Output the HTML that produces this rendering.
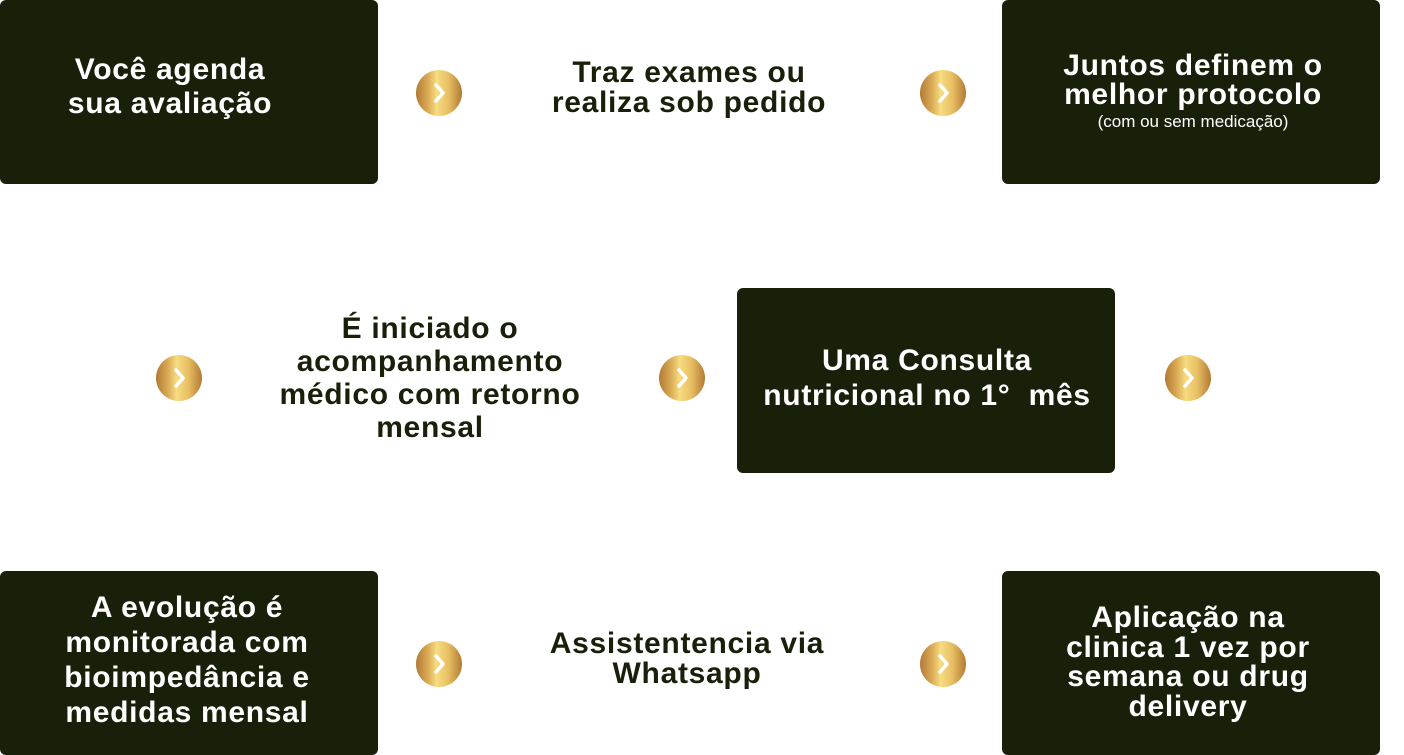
<!DOCTYPE html>
<html><head><meta charset="utf-8"><style>
body{margin:0;width:1404px;height:755px;background:#fff;position:relative;overflow:hidden;font-family:"Liberation Sans",sans-serif;font-weight:bold;}
.b{position:absolute;background:#19200a;border-radius:6px;color:#fff;}
.t{position:absolute;display:flex;flex-direction:column;align-items:center;justify-content:center;text-align:center;font-size:30px;letter-spacing:0.7px;white-space:nowrap;}
.d{color:#19200a;}
.c{position:absolute;width:46px;height:46px;border-radius:50%;background:linear-gradient(90deg,#b27a35 0%,#d9a955 25%,#f7dc80 45%,#e8bf63 70%,#b27a35 100%);}
.c svg{position:absolute;left:0;top:0}
</style></head><body>
<div class="b" style="left:0;top:0;width:378px;height:184px"></div>
<div class="b" style="left:1002px;top:0;width:378px;height:184px"></div>
<div class="b" style="left:737px;top:288px;width:378px;height:185px"></div>
<div class="b" style="left:0;top:571px;width:378px;height:184px"></div>
<div class="b" style="left:1002px;top:571px;width:378px;height:184px"></div>

<div class="t" style="left:0;top:50px;width:340px;height:74px;line-height:34px;color:#fff">Você agenda<br>sua avaliação</div>
<div class="t d" style="left:500px;top:56px;width:378px;height:64px;line-height:30px">Traz exames ou<br>realiza sob pedido</div>
<div class="t" style="left:1004px;top:46px;width:378px;height:94px;line-height:29px;color:#fff">Juntos definem o<br>melhor protocolo<span style="font-size:17px;font-weight:normal;line-height:26px;letter-spacing:0">(com ou sem medicação)</span></div>

<div class="t d" style="left:230px;top:310px;width:400px;height:136px;line-height:33px">É iniciado o<br>acompanhamento<br>médico com retorno<br>mensal</div>
<div class="t" style="left:737px;top:343px;width:380px;height:70px;line-height:35px;color:#fff">Uma Consulta<br>nutricional no 1°&nbsp; mês</div>

<div class="t" style="left:0;top:590px;width:374px;height:140px;line-height:35px;color:#fff">A evolução é<br>monitorada com<br>bioimpedância e<br>medidas mensal</div>
<div class="t d" style="left:498px;top:628px;width:378px;height:62px;line-height:30px">Assistentencia via<br>Whatsapp</div>
<div class="t" style="left:999px;top:602px;width:378px;height:120px;line-height:29.5px;color:#fff">Aplicação na<br>clinica 1 vez por<br>semana ou drug<br>delivery</div>

<div class="c" style="left:416px;top:70px"><svg width="46" height="46"><path d="M20 15 L27 23 L20 31" fill="none" stroke="#fff" stroke-width="3.5" stroke-linecap="round" stroke-linejoin="round"/></svg></div>
<div class="c" style="left:920px;top:70px"><svg width="46" height="46"><path d="M20 15 L27 23 L20 31" fill="none" stroke="#fff" stroke-width="3.5" stroke-linecap="round" stroke-linejoin="round"/></svg></div>
<div class="c" style="left:156px;top:355px"><svg width="46" height="46"><path d="M20 15 L27 23 L20 31" fill="none" stroke="#fff" stroke-width="3.5" stroke-linecap="round" stroke-linejoin="round"/></svg></div>
<div class="c" style="left:659px;top:355px"><svg width="46" height="46"><path d="M20 15 L27 23 L20 31" fill="none" stroke="#fff" stroke-width="3.5" stroke-linecap="round" stroke-linejoin="round"/></svg></div>
<div class="c" style="left:1165px;top:355px"><svg width="46" height="46"><path d="M20 15 L27 23 L20 31" fill="none" stroke="#fff" stroke-width="3.5" stroke-linecap="round" stroke-linejoin="round"/></svg></div>
<div class="c" style="left:416px;top:641px"><svg width="46" height="46"><path d="M20 15 L27 23 L20 31" fill="none" stroke="#fff" stroke-width="3.5" stroke-linecap="round" stroke-linejoin="round"/></svg></div>
<div class="c" style="left:920px;top:641px"><svg width="46" height="46"><path d="M20 15 L27 23 L20 31" fill="none" stroke="#fff" stroke-width="3.5" stroke-linecap="round" stroke-linejoin="round"/></svg></div>
</body></html>
